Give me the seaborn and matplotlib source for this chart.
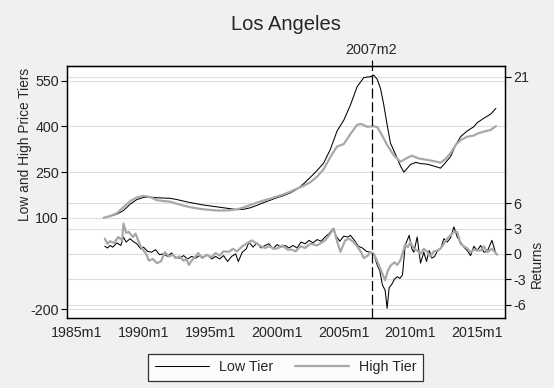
import matplotlib
matplotlib.use("Agg")
import matplotlib.pyplot as plt
import matplotlib.transforms as mtransforms
import pandas as pd
import seaborn as sns

# price tier levels (left axis), dates in decimal years
low_level_dates = [1987.0, 1987.5, 1988.0, 1988.5, 1989.0, 1989.5, 1990.0, 1990.5, 1991.0, 1991.5,
                   1992.0, 1992.5, 1993.0, 1993.5, 1994.0, 1994.5, 1995.0, 1995.5, 1996.0, 1996.5,
                   1997.0, 1997.5, 1998.0, 1998.5, 1999.0, 1999.5, 2000.0, 2000.5, 2001.0, 2001.5,
                   2002.0, 2002.5, 2003.0, 2003.5, 2004.0, 2004.5, 2005.0, 2005.5, 2006.0, 2006.5,
                   2007.0, 2007.25, 2007.5, 2007.75, 2008.0, 2008.25, 2008.5, 2008.9, 2009.25, 2009.5,
                   2009.75, 2010.0, 2010.4, 2010.75, 2011.25, 2011.75, 2012.25, 2012.6, 2013.0, 2013.4,
                   2013.75, 2014.25, 2014.75, 2015.0, 2015.5, 2016.0, 2016.4]
low_level = [100, 105, 112, 124, 145, 160, 167, 168, 166, 165,
             164, 160, 155, 150, 146, 142, 139, 136, 133, 130,
             127, 128, 133, 141, 150, 158, 166, 173, 182, 194,
             212, 233, 255, 280, 325, 385, 420, 470, 530, 560,
             563, 568, 555, 525, 470, 405, 345, 306, 270, 250,
             262, 275, 282, 278, 276, 270, 263, 280, 301, 340,
             366, 385, 399, 412, 427, 440, 459]

high_level_dates = [1987.0, 1987.5, 1988.0, 1988.5, 1989.0, 1989.5, 1990.0, 1990.5, 1991.0, 1991.5,
                    1992.0, 1992.5, 1993.0, 1993.5, 1994.0, 1994.5, 1995.0, 1995.5, 1996.0, 1996.5,
                    1997.0, 1997.5, 1998.0, 1998.5, 1999.0, 1999.5, 2000.0, 2000.5, 2001.0, 2001.5,
                    2002.0, 2002.5, 2003.0, 2003.5, 2004.0, 2004.5, 2005.0, 2005.5, 2006.0, 2006.3,
                    2006.75, 2007.25, 2007.5, 2007.75, 2008.0, 2008.25, 2008.75, 2009.25, 2009.6, 2010.1,
                    2010.6, 2011.25, 2011.75, 2012.25, 2012.6, 2013.0, 2013.4, 2013.75, 2014.25, 2014.75,
                    2015.0, 2015.5, 2016.0, 2016.4]
high_level = [100, 106, 115, 135, 155, 167, 172, 168, 158, 155,
              153, 146, 140, 135, 131, 128, 126, 124, 124, 125,
              128, 134, 142, 150, 157, 163, 170, 177, 186, 196,
              205, 217, 235, 260, 300, 334, 342, 375, 405, 408,
              399, 400, 398, 380, 360, 339, 305, 284, 293, 304,
              295, 290, 286, 281, 292, 312, 340, 355, 366, 370,
              376, 383, 388, 401]

# returns (right axis)
low_ret_dates = [1987.1, 1987.3, 1987.5, 1987.7, 1988.0, 1988.3, 1988.5, 1988.7, 1989.0, 1989.2,
                 1989.5, 1989.8, 1990.0, 1990.3, 1990.6, 1990.9, 1991.2, 1991.5, 1991.8, 1992.1,
                 1992.4, 1992.7, 1993.0, 1993.3, 1993.6, 1993.9, 1994.2, 1994.5, 1994.8, 1995.1,
                 1995.4, 1995.7, 1996.0, 1996.3, 1996.6, 1996.9, 1997.1, 1997.4, 1997.7, 1997.9,
                 1998.2, 1998.5, 1998.8, 1999.1, 1999.4, 1999.7, 2000.0, 2000.3, 2000.6, 2000.9,
                 2001.2, 2001.5, 2001.8, 2002.1, 2002.4, 2002.7, 2003.0, 2003.3, 2003.6, 2003.9,
                 2004.2, 2004.4, 2004.7, 2005.0, 2005.3, 2005.5, 2005.8, 2006.1, 2006.4, 2006.7,
                 2007.0, 2007.25, 2007.5, 2007.7, 2007.9, 2008.1, 2008.25, 2008.4, 2008.6, 2008.8,
                 2009.0, 2009.2, 2009.4, 2009.6, 2009.9, 2010.1, 2010.25, 2010.5, 2010.75, 2011.0,
                 2011.2, 2011.4, 2011.6, 2011.8, 2012.0, 2012.25, 2012.5, 2012.75, 2013.0, 2013.25,
                 2013.5, 2013.75, 2014.0, 2014.25, 2014.5, 2014.75, 2015.0, 2015.25, 2015.5, 2015.75,
                 2016.1, 2016.4]
low_ret = [0.9, 0.7, 1.0, 0.8, 1.3, 1.0, 2.0, 1.4, 1.8, 1.5,
           1.2, 0.6, 0.8, 0.3, 0.2, 0.5, -0.1, 0.0, -0.3, 0.1,
           -0.4, -0.5, -0.2, -0.6, -0.3, -0.5, -0.2, -0.4, -0.1, -0.6,
           -0.3, -0.6, -0.2, -0.9, -0.3, 0.0, -0.9, 0.2, 0.6, 1.4,
           0.8, 1.3, 0.7, 1.0, 1.2, 0.6, 1.1, 0.8, 1.0, 0.7,
           1.0, 0.7, 1.4, 1.2, 1.6, 1.3, 1.7, 1.5, 2.0, 2.4,
           3.0, 2.2, 1.5, 2.1, 2.0, 2.2, 1.6, 0.9, 0.7, 0.3,
           0.2, 0.0, -1.3, -2.0, -3.7, -4.3, -6.45, -4.0, -3.6, -3.0,
           -2.7, -2.9, -2.5, 1.0, 2.2, 0.6, 0.2, 2.0, -1.1, 0.2,
           -0.9, 0.4, -0.5, -0.3, 0.3, 0.6, 1.8, 1.4, 1.9, 3.2,
           2.0, 1.4, 0.8, 0.4, -0.2, 0.9, 0.4, 1.0, 0.2, 0.3,
           1.6, 0.0]

high_ret_dates = [1987.1, 1987.3, 1987.5, 1987.8, 1988.1, 1988.4, 1988.5, 1988.7, 1988.9, 1989.2,
                  1989.4, 1989.7, 1989.9, 1990.2, 1990.4, 1990.7, 1991.0, 1991.3, 1991.6, 1991.9,
                  1992.2, 1992.4, 1992.7, 1993.0, 1993.2, 1993.4, 1993.6, 1993.9, 1994.1, 1994.4,
                  1994.7, 1995.1, 1995.4, 1995.7, 1996.0, 1996.4, 1996.7, 1997.0, 1997.4, 1997.7,
                  1998.1, 1998.4, 1998.8, 1999.1, 1999.4, 1999.8, 2000.1, 2000.4, 2000.8, 2001.1,
                  2001.4, 2001.75, 2002.1, 2002.5, 2003.0, 2003.3, 2003.6, 2003.9, 2004.25, 2004.5,
                  2004.75, 2005.0, 2005.1, 2005.4, 2005.75, 2006.0, 2006.3, 2006.5, 2006.8, 2007.0,
                  2007.25, 2007.5, 2007.75, 2008.1, 2008.3, 2008.5, 2008.8, 2009.0, 2009.25, 2009.6,
                  2009.8, 2010.0, 2010.25, 2010.5, 2010.75, 2011.0, 2011.25, 2011.5, 2011.75, 2012.0,
                  2012.25, 2012.5, 2012.75, 2013.0, 2013.25, 2013.5, 2013.75, 2014.0, 2014.25, 2014.5,
                  2014.75, 2015.0, 2015.25, 2015.5, 2015.75, 2016.1, 2016.5]
high_ret = [1.8, 1.2, 1.5, 1.3, 2.0, 1.6, 3.6, 2.5, 2.6, 2.0,
            2.4, 1.2, 0.6, 0.0, -0.8, -0.6, -1.1, -0.9, 0.2, -0.3,
            -0.1, -0.5, -0.3, -0.8, -0.6, -1.3, -0.8, -0.3, 0.1, -0.5,
            -0.1, -0.4, 0.1, -0.2, 0.3, 0.25, 0.6, 0.3, 0.9, 1.2,
            1.6, 1.3, 0.9, 0.7, 0.9, 0.6, 0.7, 1.0, 0.5, 0.5,
            0.3, 0.9, 0.7, 1.2, 1.0, 1.3, 1.6, 2.2, 3.0, 1.5,
            0.25, 1.2, 1.6, 1.8, 1.4, 0.9, 0.2, -0.5, -0.2, 0.25,
            0.0, -0.85, -1.8, -3.1, -2.0, -1.4, -1.0, -1.3, -0.75, 1.1,
            0.8, 1.4, 0.6, 0.4, 0.0, 0.6, 0.25, -0.3, 0.3, 0.4,
            0.65, 1.2, 1.8, 2.2, 2.6, 2.6, 1.2, 0.9, 0.65, 0.2,
            0.5, 0.4, 0.4, 0.9, 0.2, 0.6, -0.1]

x_ticks = [1985, 1990, 1995, 2000, 2005, 2010, 2015]
x_tick_labels = ["1985m1", "1990m1", "1995m1", "2000m1", "2005m1", "2010m1", "2015m1"]
level_ticks = [-200, 100, 250, 400, 550]
return_ticks = [-6, -3, 0, 3, 6, 21]
event_date = 2007 + 1 / 12
event_label = "2007m2"

LOW_COLOR = "black"
HIGH_COLOR = "#a8a8a8"
GRID_COLOR = "#dedede"
FS = 10.3
TITLE_FS = 9.9

sns.set_style("white")
plt.rcParams["font.family"] = ["Liberation Sans", "DejaVu Sans"]
plt.rcParams["font.size"] = FS

fig = plt.figure(figsize=(5.54, 3.88), dpi=100, facecolor="#f0f0f0")
ax = fig.add_axes([67.3 / 554, 1 - 317.7 / 388, 437.7 / 554, 252 / 388])
ax.set_facecolor("white")
ax2 = ax.twinx()

# returns sit on the base axes (right side) so every grid line stays under the data
sns.lineplot(x=low_ret_dates, y=low_ret, ax=ax, color=LOW_COLOR, linewidth=0.75)
sns.lineplot(x=high_ret_dates, y=high_ret, ax=ax, color=HIGH_COLOR, linewidth=1.6)

low_df = pd.DataFrame({"date": low_level_dates, "value": low_level})
high_df = pd.DataFrame({"date": high_level_dates, "value": high_level})
sns.lineplot(data=low_df, x="date", y="value", ax=ax2, color=LOW_COLOR, linewidth=0.75, label="Low Tier")
sns.lineplot(data=high_df, x="date", y="value", ax=ax2, color=HIGH_COLOR, linewidth=1.6, label="High Tier")

ax.set_ylim(-7.56, 22.3)
ax2.set_ylim(-227.5, 599)
ax.set_xlim(1984.29, 2017.08)

ax.yaxis.tick_right()
ax.yaxis.set_label_position("right")
ax2.yaxis.tick_left()
ax2.yaxis.set_label_position("left")

ax.set_yticks(return_ticks)
ax.set_yticklabels([str(t) for t in return_ticks])
ax.set_ylabel("Returns", fontsize=TITLE_FS)
ax.yaxis.set_label_coords(1.057, 0.215)

ax2.set_yticks(level_ticks)
ax2.set_yticklabels([str(t) for t in level_ticks])
ax2.set_ylabel("Low and High Price Tiers", fontsize=TITLE_FS)
ax2.yaxis.set_label_coords(-0.081, 0.689)

ax.set_xticks(x_ticks)
ax.set_xticklabels(x_tick_labels)
ax.set_xlabel("")
ax2.set_xlabel("")

for a in (ax, ax2):
    a.grid(False)
    for sp in a.spines.values():
        sp.set_color("black")
        sp.set_linewidth(0.9)
    a.tick_params(axis="both", direction="out", length=4, width=0.8, color="black",
                  labelsize=FS, pad=2)

# grid lines for both y scales, drawn on the base axes
ax.grid(axis="y", color=GRID_COLOR, linewidth=0.8)
ax.set_axisbelow(True)
level_grid = mtransforms.blended_transform_factory(ax.transAxes, ax2.transData)
for t in level_ticks:
    ax.plot([0, 1], [t, t], transform=level_grid, color=GRID_COLOR, linewidth=0.8, zorder=0.6)
ax.set_ylim(-7.56, 22.3)

ax2.axvline(event_date, color="black", linewidth=0.9, linestyle=(0, (8, 3)))
top = ax.secondary_xaxis("top")
top.set_xticks([event_date])
top.set_xticklabels([event_label])
top.tick_params(direction="out", length=4, width=0.8, color="black", labelsize=FS, pad=2)

ax2.get_legend().remove()
handles, labels = ax2.get_legend_handles_labels()
leg = fig.legend(handles, labels, loc="center", bbox_to_anchor=(0.516, 0.053), ncol=2,
                 frameon=True, fancybox=False, edgecolor="black", facecolor="white",
                 fontsize=FS, handlelength=3.8, handletextpad=0.7, columnspacing=1.5,
                 borderpad=0.45)
leg.get_frame().set_linewidth(0.9)

fig.text(0.516, 1 - 25 / 388, "Los Angeles", ha="center", va="center", fontsize=14.5)

fig.savefig("out.png", dpi=100, facecolor=fig.get_facecolor())
